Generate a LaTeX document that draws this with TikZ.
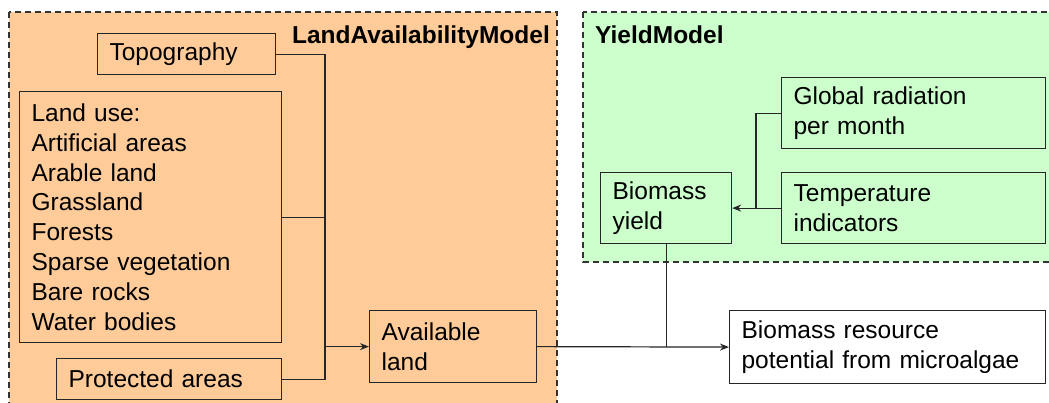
\documentclass[tikz,border=0pt]{standalone}
\usepackage{fontspec}
\setmainfont{Liberation Sans}
\usetikzlibrary{arrows.meta}
\definecolor{naranja}{HTML}{FFCC99}
\definecolor{verde}{HTML}{CCFFCC}
\definecolor{borde}{HTML}{333333}
\tikzset{
  caja/.style={draw=black!85, line width=1.2pt, align=left, anchor=north west,
    inner xsep=12pt, inner ysep=0pt, font=\fontsize{24.5}{29.8}\selectfont},
  region/.style={draw=borde, line width=1.1pt, dash pattern=on 6pt off 4pt},
  titulo/.style={font=\fontsize{24.5}{28}\selectfont\bfseries, inner sep=0pt},
  linea/.style={line width=1.2pt, black!85},
  flecha/.style={linea, -{Stealth[length=9pt,width=7pt]}}
}
\begin{document}
\begin{tikzpicture}[x=1pt,y=-1pt]
\useasboundingbox (0,0) rectangle (1049,402);
% Recortamos para que las regiones se salgan del borde como en el original
\begin{scope}
\clip (0,0) rectangle (1049,402);
\fill[white] (0,0) rectangle (1049,402);
\filldraw[region, fill=naranja] (9,12) rectangle (557,420);
\filldraw[region, fill=verde] (583,12) rectangle (1070,262);
\end{scope}

% Titulos de los modelos
\node[titulo, anchor=base east] (tland) at (550,43) {LandAvailabilityModel};
\node[titulo, anchor=base west] (tyield) at (595,43) {YieldModel};

% Cajas del modelo de disponibilidad de suelo
\node[caja, text width=154pt, minimum height=41pt] (topo) at (97,33) {Topography};
\node[caja, text width=238pt, minimum height=251pt] (uso) at (19,91)
  {Land use:\\Artificial areas\\Arable land\\Grassland\\Forests\\Sparse vegetation\\Bare rocks\\Water bodies};
\node[caja, text width=201pt, minimum height=41pt] (protegidas) at (56,358) {Protected areas};
\node[caja, text width=143pt, minimum height=72pt] (disponible) at (369,310) {Available\\land};

% Cajas del modelo de rendimiento
\node[caja, text width=240pt, minimum height=71pt] (radiacion) at (781,77) {Global radiation\\per month};
\node[caja, text width=240pt, minimum height=71pt] (temperatura) at (781,172) {Temperature\\indicators};
\node[caja, text width=107pt, minimum height=71pt] (rendimiento) at (600,172) {Biomass\\yield};

% Resultado
\node[caja, text width=292pt, minimum height=73pt] (potencial) at (729,310) {Biomass resource\\potential from microalgae};

% Conexiones
\coordinate (bus) at (325,0);
\coordinate (bus2) at (756,0);
\draw[linea] (topo.east) -- (topo.east -| bus) -- (protegidas.east -| bus) -- (protegidas.east);
\draw[linea] (uso.east) -- (uso.east -| bus);
\draw[flecha] (disponible.west -| bus) -- (disponible.west);
\draw[flecha] (disponible.east) -- (potencial.west);
\draw[linea] (rendimiento.south) -- (rendimiento.south |- potencial.west);
\draw[linea] (radiacion.west) -- (radiacion.west -| bus2) -- (temperatura.west -| bus2);
\draw[flecha] (temperatura.west) -- (rendimiento.east);
\end{tikzpicture}
\end{document}
